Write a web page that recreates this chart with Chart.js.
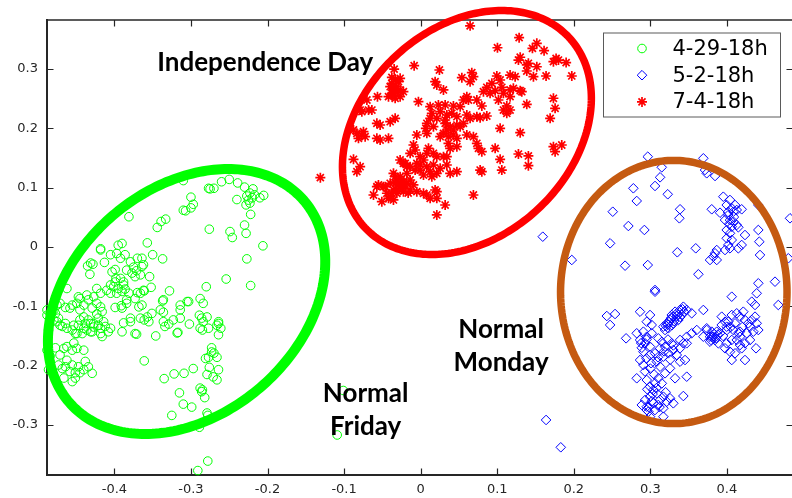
<!DOCTYPE html>
<html>
<head>
<meta charset="utf-8">
<script src="https://cdn.jsdelivr.net/npm/chart.js@4/dist/chart.umd.min.js"></script>
<style>
  html, body { margin: 0; padding: 0; background: #fff; overflow: hidden; }
  canvas { display: block; }
</style>
</head>
<body>
<canvas id="c" width="800" height="498"></canvas>
<script>
// Series names shown in the legend
const seriesNames = ['4-29-18h', '5-2-18h', '7-4-18h'];

// 4-29-18h (x, y) pairs
const apr29 = [
  [-0.310,0.112],[-0.275,0.098],[-0.270,0.099],[-0.277,0.099],[-0.260,0.110],[-0.250,0.114],[-0.239,0.108],[-0.230,0.101],
  [-0.223,0.091],[-0.227,0.086],[-0.220,0.083],[-0.225,0.079],[-0.217,0.088],[-0.223,0.074],[-0.228,0.071],[-0.219,0.098],
  [-0.205,0.087],[-0.210,0.083],[-0.240,0.080],[-0.300,0.084],[-0.297,0.072],[-0.300,0.066],[-0.310,0.062],[-0.307,0.061],
  [-0.222,0.055],[-0.381,0.051],[-0.333,0.047],[-0.339,0.043],[-0.344,0.033],[-0.276,0.030],[-0.230,0.037],[-0.228,0.023],
  [-0.249,0.026],[-0.246,0.016],[-0.206,0.002],[-0.357,0.007],[-0.390,0.006],[-0.395,0.003],[-0.418,-0.003],[-0.227,-0.020],
  [-0.254,-0.054],[-0.222,-0.065],
  [-0.418,-0.005],[-0.405,-0.013],[-0.397,-0.011],[-0.392,-0.019],[-0.386,-0.013],[-0.370,-0.019],[-0.364,-0.019],[-0.362,-0.030],
  [-0.350,-0.013],[-0.337,-0.020],[-0.431,-0.027],[-0.435,-0.032],[-0.428,-0.029],[-0.432,-0.046],[-0.413,-0.026],[-0.379,-0.025],
  [-0.375,-0.034],[-0.384,-0.039],[-0.377,-0.044],[-0.371,-0.040],
  [-0.354,-0.050],[-0.352,-0.068],[-0.362,-0.073],[-0.366,-0.078],[-0.370,-0.077],[-0.392,-0.053],[-0.388,-0.059],[-0.399,-0.059],
  [-0.405,-0.064],[-0.401,-0.067],[-0.395,-0.070],[-0.410,-0.073],[-0.405,-0.078],[-0.397,-0.078],[-0.390,-0.075],[-0.381,-0.078],
  [-0.373,-0.087],[-0.384,-0.089],[-0.328,-0.074],[-0.337,-0.091],[-0.423,-0.070],[-0.418,-0.078],[-0.427,-0.084],[-0.436,-0.081],
  [-0.447,-0.084],[-0.462,-0.070],[-0.445,-0.087],[-0.434,-0.089],[-0.423,-0.095],[-0.418,-0.101],[-0.429,-0.103],[-0.440,-0.098],
  [-0.449,-0.095],[-0.455,-0.098],[-0.458,-0.103],[-0.464,-0.102],[-0.471,-0.095],[-0.475,-0.098],[-0.479,-0.106],[-0.484,-0.112],
  [-0.488,-0.115],
  [-0.364,-0.098],[-0.384,-0.095],[-0.391,-0.099],[-0.399,-0.102],[-0.368,-0.101],[-0.357,-0.118],[-0.361,-0.123],[-0.355,-0.126],
  [-0.366,-0.120],[-0.351,-0.112],[-0.336,-0.110],[-0.314,-0.098],[-0.305,-0.092],[-0.336,-0.126],[-0.323,-0.123],[-0.314,-0.120],
  [-0.318,-0.145],[-0.373,-0.146],[-0.390,-0.143],[-0.408,-0.143],[-0.418,-0.137],[-0.414,-0.126],[-0.421,-0.120],[-0.423,-0.113],
  [-0.416,-0.109],[-0.431,-0.129],[-0.434,-0.123],[-0.438,-0.129],[-0.445,-0.123],[-0.447,-0.132],[-0.440,-0.137],[-0.436,-0.140],
  [-0.429,-0.143],[-0.427,-0.135],[-0.442,-0.146],[-0.451,-0.146],[-0.455,-0.140],[-0.462,-0.137],[-0.468,-0.134],[-0.475,-0.126],
  [-0.479,-0.123],[-0.473,-0.120],[-0.477,-0.112],
  [-0.303,-0.092],[-0.288,-0.087],[-0.284,-0.095],[-0.289,-0.115],[-0.286,-0.120],[-0.279,-0.118],[-0.284,-0.126],[-0.288,-0.137],
  [-0.285,-0.140],[-0.277,-0.137],[-0.264,-0.126],[-0.261,-0.137],[-0.266,-0.132],[-0.264,-0.148],[-0.280,-0.067],[-0.314,-0.106],
  [-0.371,-0.147],[-0.346,-0.150],[-0.317,-0.144],[-0.302,-0.130],[-0.334,-0.134],[-0.329,-0.130],[-0.264,-0.129],
  [-0.361,-0.192],[-0.297,-0.205],[-0.309,-0.213],[-0.322,-0.214],[-0.335,-0.222],[-0.276,-0.203],[-0.264,-0.207],[-0.279,-0.215],
  [-0.271,-0.219],[-0.266,-0.224],[-0.273,-0.177],[-0.270,-0.179],[-0.277,-0.186],[-0.266,-0.186],[-0.281,-0.188],[-0.273,-0.170],
  [-0.315,-0.246],[-0.288,-0.238],[-0.285,-0.241],[-0.286,-0.244],[-0.282,-0.254],[-0.310,-0.265],[-0.299,-0.270],[-0.325,-0.284],
  [-0.279,-0.280],[-0.278,-0.284],[-0.289,-0.304],[-0.278,-0.361],[-0.291,-0.377],[-0.101,-0.242],[-0.109,-0.317],
  [-0.471,-0.182],[-0.462,-0.191],[-0.473,-0.199],[-0.464,-0.202],[-0.468,-0.205],[-0.458,-0.210],[-0.451,-0.212],[-0.445,-0.212],
  [-0.429,-0.213],[-0.466,-0.221],[-0.455,-0.227],[-0.451,-0.221],[-0.440,-0.207],[-0.434,-0.202],[-0.455,-0.199],[-0.447,-0.202],
  [-0.438,-0.193],[-0.466,-0.171],[-0.462,-0.168],[-0.455,-0.174],[-0.488,-0.174],[-0.486,-0.207],[-0.471,-0.132],[-0.464,-0.129],
  [-0.453,-0.132],[-0.449,-0.146],[-0.453,-0.162],[-0.449,-0.171],[-0.440,-0.174],[-0.427,-0.129],[-0.421,-0.132],[-0.412,-0.134],
  [-0.405,-0.137],[-0.418,-0.146],[-0.431,-0.143],[-0.416,-0.151],[-0.388,-0.128],[-0.379,-0.126],[-0.488,-0.106],[-0.486,-0.140],
  [-0.477,-0.170],[-0.484,-0.184],
  [-0.403,-0.042],[-0.399,-0.038],[-0.398,-0.053],[-0.388,-0.064],[-0.386,-0.071],[-0.364,-0.033],[-0.373,-0.050],[-0.366,-0.047],
  [-0.361,-0.074],[-0.336,-0.089],[-0.340,-0.106],[-0.379,-0.120],[-0.390,-0.103],[-0.445,-0.106],[-0.440,-0.118]
];

// 5-2-18h (x, y) pairs
const may2 = [
  [0.2966,0.1523],[0.3149,0.1344],[0.3692,0.1496],[0.3714,0.1298],[0.3736,0.1243],[0.3845,0.1197],[0.2778,0.0990],[0.3061,0.1029],
  [0.3127,0.1175],[0.2822,0.0776],[0.3227,0.0889],[0.2509,0.0595],[0.3388,0.0636],[0.3379,0.0484],[0.2713,0.0354],[0.2922,0.0287],
  [0.2474,0.0062],[0.1595,0.0174],[0.1974,-0.0219],[0.2670,-0.0315],[0.2966,-0.0304],[0.3352,-0.0089],[0.3593,-0.0022],[0.3627,-0.0460],
  [0.3061,-0.0725],[0.3802,0.0636],[0.3910,0.0578],
  [0.3953,0.0848],[0.4040,0.0793],[0.3997,0.0708],[0.4063,0.0653],[0.4084,0.0595],[0.4128,0.0624],[0.4193,0.0636],[0.4018,0.0540],
  [0.3975,0.0455],[0.4040,0.0455],[0.4084,0.0427],[0.4128,0.0371],[0.4149,0.0332],[0.4063,0.0342],[0.3997,0.0287],[0.4040,0.0231],
  [0.3997,0.0147],[0.4063,0.0118],[0.4018,0.0034],[0.4040,-0.0022],[0.3975,-0.0051],[0.4149,-0.0022],[0.4193,0.0034],[0.4236,0.0202],
  [0.3867,-0.0051],[0.3822,-0.0164],[0.3845,-0.0106],[0.3779,-0.0219],[0.3867,-0.0219],
  [0.4014,0.0590],[0.4092,0.0506],[0.4031,0.0388],[0.4106,0.0708],
  [0.4410,0.0287],[0.4423,0.0089],[0.4432,-0.0135],[0.4410,0.0708],[0.4628,-0.0585],[0.4410,-0.0612],[0.4824,0.0484],[0.4802,-0.0190],
  [0.3061,-0.0754],[0.4063,-0.0838],[0.4389,-0.0781],[0.4324,-0.0922],[0.4367,-0.0978],[0.4671,-0.0978],
  [0.2431,-0.1164],[0.2539,-0.1130],[0.2474,-0.1315],[0.2865,-0.1091],[0.2996,-0.1147],[0.2953,-0.1260],[0.3018,-0.1315],
  [0.3170,-0.1344],[0.3214,-0.1287],[0.3257,-0.1231],[0.3300,-0.1175],[0.3345,-0.1118],[0.3388,-0.1062],[0.3431,-0.1007],[0.3475,-0.1062],
  [0.3410,-0.1147],[0.3300,-0.1287],[0.3235,-0.1371],[0.3192,-0.1400],[0.3366,-0.1231],[0.3323,-0.1091],[0.3279,-0.1147],
  [0.3244,-0.1265],[0.3348,-0.1164],[0.3440,-0.1096],[0.3205,-0.1332],
  [0.3270,-0.1200],[0.3310,-0.1250],[0.3360,-0.1140],[0.3390,-0.1180],[0.3420,-0.1050],[0.3280,-0.1320],[0.3230,-0.1310],
  [0.3540,-0.1118],[0.3692,-0.1062],
  [0.2683,-0.1540],[0.2822,-0.1455],[0.2909,-0.1428],[0.2953,-0.1513],[0.2865,-0.1568],[0.2931,-0.1624],[0.2996,-0.1681],[0.2909,-0.1766],
  [0.2996,-0.1821],[0.2865,-0.1906],[0.2909,-0.1990],[0.2822,-0.2214],[0.2953,-0.2243],[0.2996,-0.2356],[0.3061,-0.2298],[0.3104,-0.2214],
  [0.3039,-0.2411],[0.3084,-0.2467],[0.2996,-0.2524],[0.2931,-0.2580],[0.2888,-0.2664],[0.2953,-0.2693],[0.3039,-0.2636],[0.3127,-0.2580],
  [0.3104,-0.2664],[0.3170,-0.2524],[0.3214,-0.2609],[0.3257,-0.2551],[0.3300,-0.2636],[0.3170,-0.2720],[0.2974,-0.2777],[0.3170,-0.2862],
  [0.2996,-0.2862],[0.3323,-0.2214],[0.3431,-0.2513],[0.3475,-0.2187],[0.3453,-0.1906],[0.3388,-0.1934],[0.3345,-0.1821],[0.3300,-0.1737],
  [0.3235,-0.1793],[0.3192,-0.1681],[0.3279,-0.1624],[0.3388,-0.1568],[0.3475,-0.1513],[0.3431,-0.1624],[0.3540,-0.1455],[0.3606,-0.1400],
  [0.3736,-0.1371],[0.3692,-0.1513],[0.3779,-0.1513],[0.3084,-0.1934],[0.3127,-0.2019],[0.3192,-0.2130],[0.3257,-0.2046],[0.3170,-0.1850],
  [0.3061,-0.1793],[0.3127,-0.1708],[0.3104,-0.1540],[0.3018,-0.1455],[0.3475,-0.1624],[0.3388,-0.1708],
  [0.2888,-0.1700],[0.2950,-0.1880],[0.3010,-0.1960],[0.2930,-0.2100],[0.3050,-0.2150],[0.3000,-0.2050],[0.3150,-0.2300],[0.3080,-0.2380],
  [0.3020,-0.2600],[0.3120,-0.2700],[0.3060,-0.2750],[0.2980,-0.2700],[0.3200,-0.2450],[0.2960,-0.2400],[0.3030,-0.2480],[0.2880,-0.1620],
  [0.2950,-0.1560],[0.3150,-0.1600],[0.3230,-0.1560],[0.3300,-0.1660],[0.3180,-0.1760],[0.3100,-0.1860],[0.3260,-0.1900],
  [0.3822,-0.1513],[0.3736,-0.1400],[0.3802,-0.1428],[0.3867,-0.1428],[0.3910,-0.1455],[0.3845,-0.1568],[0.3888,-0.1624],[0.3779,-0.1597],
  [0.3932,-0.1315],[0.3975,-0.1260],[0.3997,-0.1344],[0.3932,-0.1175],[0.4063,-0.1147],[0.4128,-0.1118],[0.4171,-0.1175],[0.4214,-0.1091],
  [0.4236,-0.1231],[0.4279,-0.1287],[0.4324,-0.1231],[0.4367,-0.1175],[0.4389,-0.1287],[0.4410,-0.1400],[0.4345,-0.1428],[0.4302,-0.1344],
  [0.4258,-0.1455],[0.4171,-0.1513],[0.4128,-0.1568],[0.4063,-0.1568],[0.3997,-0.1624],[0.3975,-0.1708],[0.4040,-0.1766],[0.4106,-0.1793],
  [0.4063,-0.1906],[0.4236,-0.1906],[0.4193,-0.1708],[0.4236,-0.1624],[0.4171,-0.1653],[0.4302,-0.1568],[0.4380,-0.1708],[0.4171,-0.1428],
  [0.4084,-0.1400],[0.4106,-0.1287],[0.4018,-0.1260],
  [0.3805,-0.1518],[0.3831,-0.1467],[0.3858,-0.1535],[0.3792,-0.1568],
  [0.3880,-0.1480],[0.3950,-0.1500],[0.4000,-0.1400],[0.4150,-0.1450],[0.4200,-0.1350],[0.4050,-0.1350],
  [0.1638,-0.2917],[0.1830,-0.3378],[0.2953,-0.2749]
];

// 7-4-18h (x, y) pairs
const jul4 = [
  [0.0646,0.3730],[0.1286,0.3530],[0.1003,0.3360],[0.1517,0.3435],[0.1460,0.3350],[0.1612,0.3310],[0.1300,0.3200],[0.1277,0.3153],
  [0.1407,0.3098],[0.1769,0.3180],[0.1800,0.3153],[0.1900,0.3110],[0.1734,0.3125],[-0.0085,0.3057],[-0.0346,0.3000],[0.0245,0.2985],
  [0.0668,0.2940],[0.0689,0.2872],[0.0538,0.2855],[0.0646,0.2788],[0.1168,0.2900],[0.1234,0.2872],[0.1386,0.2968],[0.1473,0.2872],
  [0.1517,0.3040],[0.1638,0.2884],[0.1974,0.2884],[0.0995,0.2884],[0.1038,0.2816],[0.0930,0.2760],[0.0864,0.2693],[0.0820,0.2619],
  [0.0973,0.2636],[0.1060,0.2693],[0.1081,0.2592],[0.1168,0.2648],[0.1211,0.2676],[0.1300,0.2636],[0.1386,0.3070],
  [-0.0376,0.2860],[-0.0333,0.2828],[-0.0268,0.2845],[-0.0398,0.2703],[-0.0355,0.2648],[-0.0311,0.2703],[-0.0268,0.2648],[-0.0225,0.2619],
  [-0.0420,0.2535],[-0.0376,0.2592],[-0.0333,0.2508],[-0.0268,0.2535],[-0.0376,0.2760],[-0.0290,0.2788],[-0.0359,0.2680],[-0.0307,0.2610],
  [-0.0372,0.2560],
  [0.0189,0.2788],[0.0211,0.2732],[0.0298,0.2648],[-0.0564,0.2535],[-0.0702,0.2479],[-0.0637,0.2310],[-0.0029,0.2450],[0.0603,0.2535],
  [0.0624,0.2479],[0.0799,0.2378],[0.1386,0.2406],[0.1125,0.2378],[0.1168,0.2310],[0.1125,0.2255],[0.1734,0.2508],[0.1756,0.2339],
  [0.1691,0.2170],[0.0559,0.2479],[0.0734,0.2479],[0.0907,0.2592],[0.1016,0.2479],[0.1168,0.2535],[0.1321,0.2619],[0.1081,0.2310],
  [0.0124,0.2366],[0.0232,0.2395],[0.0320,0.2395],[0.0428,0.2378],[0.0516,0.2366],[0.0146,0.2255],[0.0255,0.2282],[0.0124,0.2170],
  [0.0211,0.2170],[0.0342,0.2226],[0.0407,0.2255],[0.0473,0.2197],[0.0603,0.2226],[0.0646,0.2170],[0.0777,0.2180],[0.0864,0.2209],
  [0.0734,0.2197],
  [-0.0768,0.2282],[-0.0572,0.2086],[-0.0529,0.2057],[-0.0398,0.2113],[-0.0333,0.2170],[-0.0790,0.2310],[-0.0681,0.2310],
  [0.0320,0.2086],[0.0385,0.2029],[0.0342,0.1973],[0.0428,0.1973],[0.0473,0.2057],[0.0559,0.2086],[0.0516,0.2029],[0.0298,0.1917],
  [0.0363,0.1860],[0.0428,0.1889],[0.0255,0.1860],[0.0473,0.1833],[0.0603,0.1889],[0.0689,0.1860],[0.0734,0.1749],[0.0755,0.1664],
  [0.0799,0.1607],[0.0363,0.1749],[0.0385,0.1664],[0.0473,0.1691],[0.0068,0.2002],[-0.0050,0.1889],[0.1038,0.2002],[0.1300,0.1928],
  [0.0081,0.2086],[0.0167,0.2029],[0.0081,0.1917],[0.0320,0.2142],
  [0.0973,0.1664],[0.1038,0.1479],[0.1060,0.1298],[0.1277,0.1568],[0.1407,0.1535],[0.1407,0.1371],[0.1734,0.1691],[0.1756,0.1607],
  [0.1843,0.1720],
  [-0.0877,0.1973],[-0.0833,0.1917],[-0.0768,0.1889],[-0.0747,0.1944],[-0.0725,0.1860],[-0.0812,0.1833],[-0.0572,0.1833],[-0.0529,0.1804],
  [-0.0420,0.1833],[-0.0877,0.1479],[-0.0833,0.1270],[-0.0790,0.1354],
  [-0.0094,0.1720],[-0.0072,0.1636],[-0.0137,0.1580],[-0.0007,0.1523],[0.0037,0.1467],[0.0102,0.1664],[0.0081,0.1580],[0.0167,0.1580],
  [0.0211,0.1523],[0.0342,0.1523],[-0.0268,0.1467],[-0.0225,0.1411],[-0.0180,0.1354],[-0.0050,0.1411],[-0.0007,0.1298],[0.0081,0.1354],
  [0.0167,0.1383],[0.0211,0.1243],[0.0124,0.1270],[0.0037,0.1214],[0.0146,0.1186],[0.0255,0.1327],[0.0385,0.1243],[0.0473,0.1270],
  [0.0298,0.1523],[0.0342,0.1383],[0.0777,0.1298],[0.0799,0.1270],[0.0689,0.0877],
  [-0.0355,0.1243],[-0.0268,0.1186],[-0.0311,0.1130],[-0.0225,0.1101],[-0.0180,0.1074],[-0.0137,0.1130],[-0.0094,0.1046],[-0.0268,0.1017],
  [-0.0355,0.0961],[-0.0441,0.0906],[-0.0398,0.0848],[-0.0486,0.1017],[-0.0551,0.1046],[-0.0616,0.0877],[-0.0507,0.0764],[-0.0311,0.0906],
  [-0.0225,0.0933],[-0.0137,0.0961],[-0.0050,0.0933],[0.0081,0.0877],[0.0211,0.0933],[0.0211,0.0821],[0.0320,0.0708],[0.0211,0.0540],
  [-0.0290,0.1046],[-0.0242,0.0990],[-0.0202,0.1029],[-0.0333,0.1080],[-0.0163,0.0910],[-0.0420,0.0821],[-0.0355,0.0793],[-0.0376,0.0906],
  [-0.0311,0.0961],[-0.0245,0.1101],[0.0037,0.0906],[0.0124,0.0821],[0.0189,0.0961],[-0.0572,0.1017],[-0.0463,0.1017],[-0.0398,0.1074],
  [-0.0333,0.1186],[-0.0180,0.1243],[-0.0202,0.1411],[-0.0137,0.1354],[-0.0072,0.1298],[-0.0007,0.1383],
  [-0.1310,0.1169]
];

// Axis limits and tick values
const xRange = [-0.488, 0.4863];
const yRange = [-0.3845, 0.3828];
const xTicks = [-0.4, -0.3, -0.2, -0.1, 0, 0.1, 0.2, 0.3, 0.4];
const yTicks = [-0.3, -0.2, -0.1, 0, 0.1, 0.2, 0.3];

// Rings around each group: centre plus two semi-axis vectors, in data units
const rings = [
  { c: [-0.3057, -0.0919], u: [0.1533, 0.1701], v: [0.0964, -0.1449], color: '#00ff00', width: 10 },
  { c: [0.0604, 0.1931],   u: [0.1334, 0.1602], v: [0.0929, -0.1291], color: '#ff0000', width: 7.5 },
  { c: [0.3306, -0.0759],  u: [0.1479, 0],      v: [0, 0.2219],       color: '#c55a11', width: 7.5 }
];

// Group captions, anchored by centre x and text baseline y in data units
const captions = [
  { lines: ['Independence Day'], x: -0.203, y: [0.2973] },
  { lines: ['Normal', 'Monday'], x: 0.1051, y: [-0.154, -0.2091] },
  { lines: ['Normal', 'Friday'], x: -0.0718, y: [-0.2609, -0.317] }
];

const AXIS = '#262626';
const toPts = arr => arr.map(([x, y]) => ({ x, y }));

// Axis box with inward tick marks on all four sides
const framePlugin = {
  id: 'frame',
  afterDatasetsDraw(chart) {
    const { ctx, chartArea: a, scales: { x, y } } = chart;
    const len = 6.5;
    ctx.save();
    ctx.strokeStyle = AXIS;
    ctx.lineWidth = 1.3;
    ctx.beginPath();
    ctx.moveTo(a.left, a.top); ctx.lineTo(a.right, a.top); ctx.lineTo(a.right, a.bottom);
    ctx.stroke();
    ctx.lineWidth = 1.2;
    ctx.beginPath();
    x.ticks.forEach(t => {
      const px = Math.round(x.getPixelForValue(t.value)) + 0.5;
      ctx.moveTo(px, a.bottom); ctx.lineTo(px, a.bottom - len);
      ctx.moveTo(px, a.top); ctx.lineTo(px, a.top + len);
    });
    y.ticks.forEach(t => {
      const py = Math.round(y.getPixelForValue(t.value)) + 0.5;
      ctx.moveTo(a.left, py); ctx.lineTo(a.left + len, py);
      ctx.moveTo(a.right, py); ctx.lineTo(a.right - len, py);
    });
    ctx.stroke();
    ctx.restore();
  }
};

// Rings, captions and legend box drawn over the markers
const overlayPlugin = {
  id: 'overlay',
  afterDraw(chart) {
    const { ctx, chartArea: a, scales: { x, y } } = chart;
    ctx.save();
    rings.forEach(r => {
      ctx.beginPath();
      const n = 240;
      for (let i = 0; i <= n; i++) {
        const t = (i / n) * Math.PI * 2;
        const dx = r.c[0] + r.u[0] * Math.cos(t) + r.v[0] * Math.sin(t);
        const dy = r.c[1] + r.u[1] * Math.cos(t) + r.v[1] * Math.sin(t);
        const px = x.getPixelForValue(dx), py = y.getPixelForValue(dy);
        if (i === 0) ctx.moveTo(px, py); else ctx.lineTo(px, py);
      }
      ctx.closePath();
      ctx.strokeStyle = r.color;
      ctx.lineWidth = r.width;
      ctx.stroke();
    });

    ctx.fillStyle = '#000';
    ctx.font = 'bold 26px Lato';
    ctx.textAlign = 'center';
    ctx.textBaseline = 'alphabetic';
    captions.forEach(c => {
      c.lines.forEach((line, i) => {
        ctx.fillText(line, x.getPixelForValue(c.x), y.getPixelForValue(c.y[i]));
      });
    });

    // legend
    const bx = a.left + 556.5, by = a.top + 13, bw = 177, bh = 84;
    ctx.fillStyle = '#fff';
    ctx.fillRect(bx, by, bw, bh);
    ctx.strokeStyle = '#5a5a5a';
    ctx.lineWidth = 1;
    ctx.strokeRect(bx, by, bw, bh);
    ctx.font = '21px "DejaVu Sans"';
    ctx.textAlign = 'left';
    ctx.textBaseline = 'middle';
    chart.data.datasets.forEach((d, i) => {
      const my = by + 15.5 + i * 26.7;
      const mx = bx + 38.5;
      ctx.strokeStyle = d.borderColor;
      ctx.fillStyle = 'rgba(0,0,0,0)';
      ctx.lineWidth = d.borderWidth;
      Chart.helpers.drawPoint(ctx, {
        pointStyle: d.pointStyle, radius: d.pointRadius, borderWidth: d.borderWidth, rotation: 0
      }, mx, my);
      ctx.fillStyle = '#000';
      ctx.fillText(seriesNames[i], bx + 69, my + 1);
    });
    ctx.restore();
  }
};

Chart.defaults.font.family = '"DejaVu Sans", sans-serif';

new Chart(document.getElementById('c'), {
  type: 'scatter',
  data: {
    datasets: [
      { label: seriesNames[0], data: toPts(apr29), pointStyle: 'circle', pointRadius: 4.3,
        borderColor: '#00ff00', backgroundColor: 'rgba(0,0,0,0)', borderWidth: 1, clip: false },
      { label: seriesNames[1], data: toPts(may2), pointStyle: 'rectRot', pointRadius: 4.8,
        borderColor: '#0000ff', backgroundColor: 'rgba(0,0,0,0)', borderWidth: 1, clip: false },
      { label: seriesNames[2], data: toPts(jul4), pointStyle: 'star', pointRadius: 5,
        borderColor: '#ff0000', backgroundColor: 'rgba(0,0,0,0)', borderWidth: 1.7, clip: false }
    ]
  },
  options: {
    responsive: false,
    animation: false,
    events: [],
    layout: { padding: { left: 0, top: 20, right: 7, bottom: 0 } },
    plugins: { legend: { display: false }, tooltip: { enabled: false } },
    scales: {
      x: {
        type: 'linear', min: xRange[0], max: xRange[1],
        afterBuildTicks: s => { s.ticks = xTicks.map(v => ({ value: v })); },
        afterFit: s => { s.height = 23; },
        grid: { display: true, drawOnChartArea: false, drawTicks: false },
        border: { display: true, color: AXIS, width: 2 },
        ticks: { color: AXIS, font: { size: 13 }, padding: 7,
                 callback: v => String(Number(v.toFixed(1))) }
      },
      y: {
        type: 'linear', min: yRange[0], max: yRange[1],
        afterBuildTicks: s => { s.ticks = yTicks.map(v => ({ value: v })); },
        afterFit: s => { s.width = 47; },
        grid: { display: true, drawOnChartArea: false, drawTicks: false },
        border: { display: true, color: AXIS, width: 2 },
        ticks: { color: AXIS, font: { size: 13 }, padding: 9,
                 callback: v => String(Number(v.toFixed(1))) }
      }
    }
  },
  plugins: [framePlugin, overlayPlugin]
});
</script>
</body>
</html>
